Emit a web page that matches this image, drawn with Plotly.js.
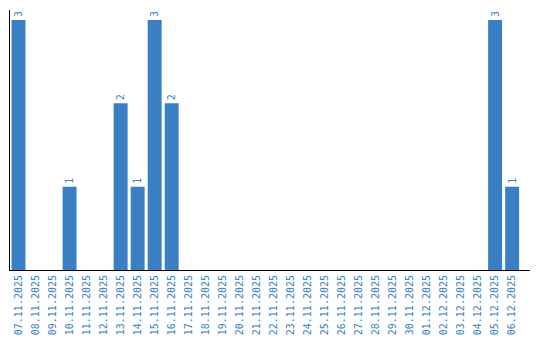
<!DOCTYPE html>
<html><head><meta charset="utf-8">
<script src="https://cdn.plot.ly/plotly-3.0.1.min.js"></script>
<style>html,body{margin:0;padding:0;background:#fff}#c{width:540px;height:340px}</style>
</head><body><div id="c"></div>
<script>
const dates = ["07.11.2025","08.11.2025","09.11.2025","10.11.2025","11.11.2025","12.11.2025","13.11.2025","14.11.2025","15.11.2025","16.11.2025","17.11.2025","18.11.2025","19.11.2025","20.11.2025","21.11.2025","22.11.2025","23.11.2025","24.11.2025","25.11.2025","26.11.2025","27.11.2025","28.11.2025","29.11.2025","30.11.2025","01.12.2025","02.12.2025","03.12.2025","04.12.2025","05.12.2025","06.12.2025"];
const counts = [3,0,0,1,0,0,2,1,3,2,0,0,0,0,0,0,0,0,0,0,0,0,0,0,0,0,0,0,3,1];
const blue = "#3a7fc4";
const labels = counts.map(v => v > 0 ? String(v) : "");
Plotly.newPlot("c", [{
  type: "bar", x: dates, y: counts, marker: {color: blue},
  text: labels, textposition: "outside", textangle: -90,
  textfont: {family: "DejaVu Sans Mono, monospace", size: 10, color: blue},
  cliponaxis: false, hoverinfo: "none"
}], {
  width: 540, height: 340,
  margin: {l: 10, r: 10, t: 10, b: 70},
  bargap: 0.18, showlegend: false,
  paper_bgcolor: "#fff", plot_bgcolor: "#fff",
  xaxis: {type: "category", range: [-0.5, 30.05], tickangle: -90, showline: true, linecolor: "#000", linewidth: 1,
    showgrid: false, ticks: "", tickfont: {family: "DejaVu Sans Mono, monospace", size: 10, color: blue}},
  yaxis: {range: [0, 3.12], showline: true, linecolor: "#000", linewidth: 1, showgrid: false,
    zeroline: false, showticklabels: false, ticks: ""}
}, {displayModeBar: false, staticPlot: true});
</script></body></html>
